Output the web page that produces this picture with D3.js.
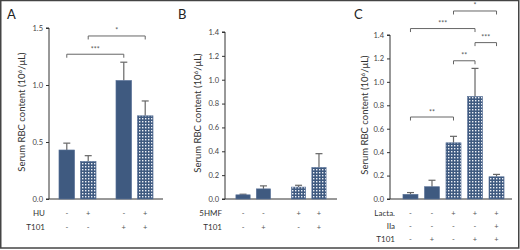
<!DOCTYPE html>
<html>
<head>
<meta charset="utf-8">
<script src="https://cdn.jsdelivr.net/npm/d3@7"></script>
<style>
  body { margin: 0; background: #fff; }
  svg { display: block; font-family: Lato, "Noto Sans", sans-serif; }
</style>
</head>
<body>
<script>
const W = 520, H = 250;

// panel A
const aGroups = ["ctrl", "T101"];
const aValues = [0.43, 0.33, 1.04, 0.73];
const aErrors = [0.06, 0.05, 0.16, 0.13];
const aDotted = [false, true, false, true];
const aRowNames = ["HU", "T101"];
const aRowSigns = [["-", "+", "-", "+"], ["-", "-", "+", "+"]];
const aTicks = [0, 0.5, 1.0, 1.5];
const aSig = [[0, 2, "***", 1.27], [1, 3, "*", 1.43]];

// panel B
const bGroups = ["ctrl", "5HMF"];
const bValues = [0.035, 0.085, 0.10, 0.265];
const bErrors = [0.005, 0.025, 0.015, 0.115];
const bDotted = [false, false, true, true];
const bRowNames = ["5HMF", "T101"];
const bRowSigns = [["-", "-", "+", "+"], ["-", "+", "-", "+"]];
const bTicks = [0, 0.2, 0.4, 0.6, 0.8, 1.0, 1.2, 1.4];

// panel C
const cValues = [0.04, 0.105, 0.48, 0.875, 0.19];
const cErrors = [0.015, 0.055, 0.055, 0.24, 0.02];
const cDotted = [false, false, true, true, true];
const cRowNames = ["Lacta.", "IIa", "T101"];
const cRowSigns = [["-", "-", "+", "+", "+"], ["-", "-", "-", "-", "+"], ["-", "+", "-", "+", "+"]];
const cTicks = [0, 0.2, 0.4, 0.6, 0.8, 1.0, 1.2, 1.4];
const cSig = [[2, 4, "*", 1.605], [0, 3, "***", 1.455], [3, 4, "***", 1.335], [2, 3, "**", 1.18], [0, 2, "**", 0.70]];

const barColor = "#3f5a80";

const svg = d3.select("body").append("svg")
  .attr("width", W)
  .attr("height", H);

const pat = svg.append("defs").append("pattern")
  .attr("id", "dots")
  .attr("patternUnits", "userSpaceOnUse")
  .attr("width", 3).attr("height", 3);
pat.append("rect").attr("width", 3).attr("height", 3).attr("fill", barColor);
pat.append("rect").attr("x", 1).attr("y", 1).attr("width", 1.4).attr("height", 1.4).attr("fill", "#eef1f7");

// frame
svg.append("rect")
  .attr("x", 0.75).attr("y", 0.5)
  .attr("width", W - 2).attr("height", H - 2.5)
  .attr("fill", "none").attr("stroke", "#444").attr("stroke-width", 1.5);

function panel(o) {
  const g = svg.append("g");
  const y = d3.scaleLinear().domain([0, o.max]).range([199, o.top]);

  g.append("text").attr("x", o.letterX).attr("y", 19)
    .attr("font-size", 13).attr("fill", "#222").text(o.letter);

  const yAxis = g.append("g")
    .attr("transform", `translate(${o.axisX},0)`)
    .call(d3.axisLeft(y).tickValues(o.ticks).tickFormat(d3.format(".1f")).tickSize(3).tickPadding(3));
  yAxis.select(".domain").attr("stroke", "#333").attr("d", `M-3,${y(o.max)}H0V${y(0)}H-3`);
  yAxis.selectAll(".tick line").attr("stroke", "#333");
  yAxis.selectAll(".tick text").attr("font-size", 7.5).attr("fill", "#444").attr("font-family", "Lato, sans-serif");

  g.append("line")
    .attr("x1", o.axisX).attr("x2", o.axisEnd)
    .attr("y1", y(0)).attr("y2", y(0))
    .attr("stroke", "#333");

  g.append("text")
    .attr("transform", `translate(${o.labelX},${o.labelY}) rotate(-90)`)
    .attr("text-anchor", "middle").attr("font-size", 9.5).attr("fill", "#333")
    .text("Serum RBC content (10")
    .append("tspan").attr("dy", -3.5).attr("font-size", 6.5).text("6")
    .select(function() { return this.parentNode; })
    .append("tspan").attr("dy", 3.5).text("/μL)");

  const bars = o.values.map((v, i) => ({ v, e: o.errors[i], dotted: o.dotted[i], x: o.x(i), w: o.bw }));

  g.selectAll(".err").data(bars).join("g").each(function(d) {
    const s = d3.select(this);
    const cx = d.x + d.w / 2;
    s.append("line").attr("x1", cx).attr("x2", cx).attr("y1", y(d.v)).attr("y2", y(d.v + d.e))
      .attr("stroke", "#666").attr("stroke-width", 1.2);
    s.append("line").attr("x1", cx - 3.5).attr("x2", cx + 3.5).attr("y1", y(d.v + d.e)).attr("y2", y(d.v + d.e))
      .attr("stroke", "#666").attr("stroke-width", 1.2);
  });

  g.selectAll(".bar").data(bars).join("rect")
    .attr("x", d => d.x).attr("width", d => d.w)
    .attr("y", d => y(d.v)).attr("height", d => y(0) - y(d.v))
    .attr("fill", d => d.dotted ? "url(#dots)" : barColor)
    .attr("stroke", "#5a7298").attr("stroke-width", 0.6);

  o.rowNames.forEach((name, r) => {
    const ry = o.rowY[r];
    g.append("text").attr("x", o.rowLabelX).attr("y", ry).attr("dy", "0.35em")
      .attr("text-anchor", "end").attr("font-size", 8).attr("fill", "#333").text(name);
    g.selectAll(null).data(o.rowSigns[r]).join("text")
      .attr("x", (d, i) => o.x(i) + o.bw / 2).attr("y", ry).attr("dy", "0.35em")
      .attr("text-anchor", "middle").attr("font-size", 7.5).attr("fill", "#555").text(d => d);
  });

  (o.sig || []).forEach(([a, b, label, lvl]) => {
    const x1 = o.x(a) + o.bw / 2, x2 = o.x(b) + o.bw / 2, yy = y(lvl);
    g.append("path").attr("d", `M${x1},${yy + 3.5}V${yy}H${x2}V${yy + 3.5}`)
      .attr("fill", "none").attr("stroke", "#666").attr("stroke-width", 1);
    g.append("text").attr("x", (x1 + x2) / 2).attr("y", yy - 2.5)
      .attr("text-anchor", "middle").attr("font-size", 7).attr("fill", "#555").text(label);
  });
}

function groupedX(groups, perGroup, range, pi, po, innerPad) {
  const outer = d3.scaleBand().domain(groups).range(range).paddingInner(pi).paddingOuter(po);
  const inner = d3.scaleBand().domain(d3.range(perGroup)).range([0, outer.bandwidth()]).paddingInner(innerPad);
  return { x: i => outer(groups[Math.floor(i / perGroup)]) + inner(i % perGroup), bw: inner.bandwidth() };
}

const ax = groupedX(aGroups, 2, [49, 163], 0.35, 0.175, 0.27);
panel({
  letter: "A", letterX: 7, axisX: 49, axisEnd: 163, max: 1.5, top: 28, ticks: aTicks,
  labelX: 25, labelY: 112, values: aValues, errors: aErrors, dotted: aDotted,
  x: ax.x, bw: ax.bw, rowNames: aRowNames, rowSigns: aRowSigns, rowY: [213.5, 227], rowLabelX: 45, sig: aSig
});

const bx = groupedX(bGroups, 2, [225, 337], 0.375, 0.196, 0.3);
panel({
  letter: "B", letterX: 178, axisX: 225, axisEnd: 337, max: 1.4, top: 32, ticks: bTicks,
  labelX: 201, labelY: 113, values: bValues, errors: bErrors, dotted: bDotted,
  x: bx.x, bw: bx.bw, rowNames: bRowNames, rowSigns: bRowSigns, rowY: [213.5, 227], rowLabelX: 222
});

const cScale = d3.scaleBand().domain(d3.range(cValues.length)).range([396.5, 510.5]).paddingInner(0.3).paddingOuter(0.3);
panel({
  letter: "C", letterX: 354, axisX: 390, axisEnd: 512, max: 1.4, top: 35, ticks: cTicks,
  labelX: 368, labelY: 115, values: cValues, errors: cErrors, dotted: cDotted,
  x: i => cScale(i), bw: cScale.bandwidth(), rowNames: cRowNames, rowSigns: cRowSigns,
  rowY: [213.5, 226.5, 239.5], rowLabelX: 395, sig: cSig
});
</script>
</body>
</html>
